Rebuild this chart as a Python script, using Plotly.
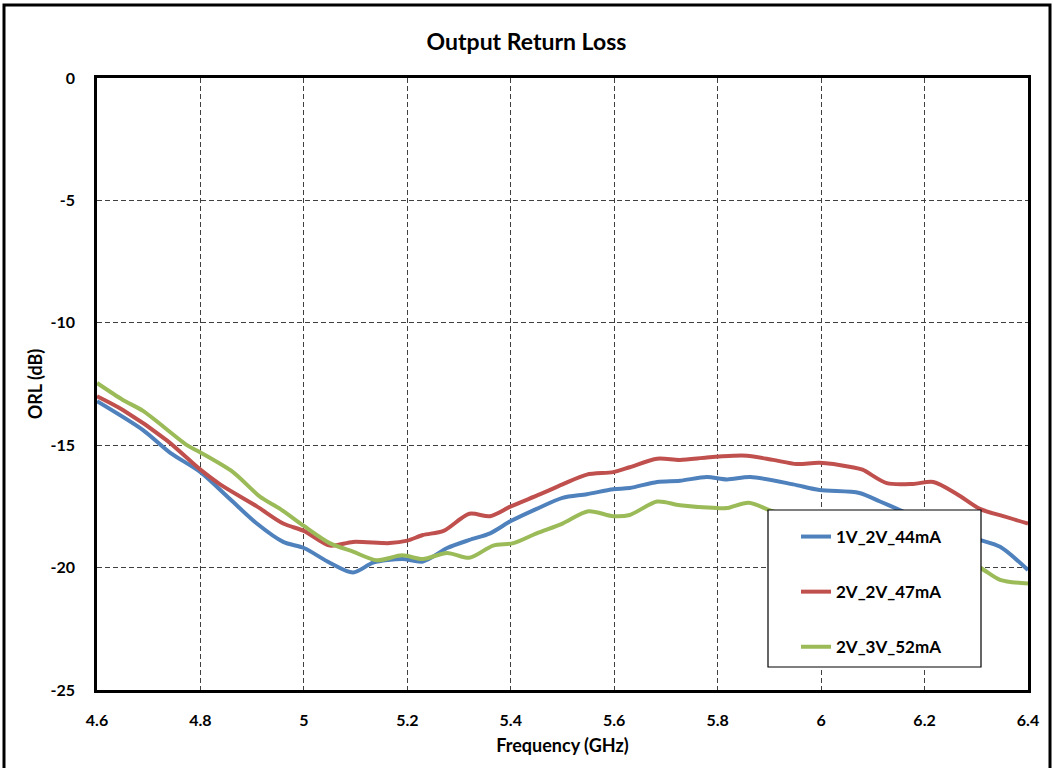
import plotly.graph_objects as go

# Series: frequency (GHz) and ORL (dB)
freq_44 = [4.600, 4.689, 4.741, 4.800, 4.857, 4.909, 4.960, 5.000, 5.050, 5.095, 5.134, 5.190,
           5.230, 5.277, 5.320, 5.360, 5.400, 5.450, 5.500, 5.547, 5.598, 5.630, 5.683, 5.727,
           5.779, 5.818, 5.863, 5.946, 5.997, 6.074, 6.114, 6.147, 6.200, 6.250, 6.307, 6.346, 6.400]
orl_44 = [-13.2, -14.38, -15.3, -16.1, -17.2, -18.2, -18.95, -19.2, -19.8, -20.2, -19.8, -19.65,
          -19.75, -19.2, -18.87, -18.6, -18.1, -17.6, -17.15, -17.0, -16.8, -16.75, -16.5, -16.45,
          -16.3, -16.4, -16.3, -16.6, -16.83, -16.95, -17.3, -17.6, -18.1, -18.5, -18.87, -19.15, -20.1]

freq_47 = [4.600, 4.650, 4.735, 4.800, 4.838, 4.909, 4.960, 5.000, 5.050, 5.095, 5.166, 5.200,
           5.230, 5.270, 5.320, 5.360, 5.400, 5.457, 5.500, 5.547, 5.598, 5.630, 5.683, 5.727,
           5.779, 5.830, 5.857, 5.907, 5.953, 5.997, 6.060, 6.080, 6.127, 6.178, 6.217, 6.263,
           6.307, 6.352, 6.400]
orl_47 = [-13.0, -13.56, -14.8, -16.0, -16.6, -17.5, -18.2, -18.5, -19.1, -18.95, -19.0, -18.9,
          -18.67, -18.5, -17.8, -17.9, -17.5, -17.0, -16.6, -16.2, -16.1, -15.9, -15.55, -15.6,
          -15.5, -15.43, -15.43, -15.6, -15.77, -15.72, -15.9, -16.0, -16.55, -16.58, -16.5, -17.0,
          -17.6, -17.9, -18.2]

freq_52 = [4.600, 4.650, 4.689, 4.774, 4.800, 4.863, 4.915, 4.954, 5.000, 5.050, 5.095, 5.141,
           5.190, 5.230, 5.277, 5.320, 5.366, 5.405, 5.450, 5.500, 5.550, 5.598, 5.630, 5.683,
           5.727, 5.800, 5.818, 5.860, 5.900, 5.950, 6.050, 6.150, 6.250, 6.307, 6.346, 6.400]
orl_52 = [-12.46, -13.15, -13.6, -15.0, -15.3, -16.1, -17.1, -17.6, -18.3, -19.0, -19.35, -19.7,
          -19.5, -19.65, -19.4, -19.6, -19.1, -19.0, -18.6, -18.2, -17.7, -17.9, -17.85, -17.3,
          -17.45, -17.57, -17.57, -17.35, -17.65, -18.0, -18.4, -18.9, -19.5, -20.0, -20.5, -20.65]

series_names = ["1V_2V_44mA", "2V_2V_47mA", "2V_3V_52mA"]
series_colors = ["#4F81BD", "#C0504D", "#9BBB59"]

x_ticks = [4.6, 4.8, 5.0, 5.2, 5.4, 5.6, 5.8, 6.0, 6.2, 6.4]
x_tick_labels = ["4.6", "4.8", "5", "5.2", "5.4", "5.6", "5.8", "6", "6.2", "6.4"]
y_ticks = [0, -5, -10, -15, -20, -25]

FONT = "Lato, 'Open Sans', sans-serif"

fig = go.Figure()
for name, color, xs, ys in zip(series_names, series_colors,
                               [freq_44, freq_47, freq_52], [orl_44, orl_47, orl_52]):
    fig.add_trace(go.Scatter(x=xs, y=ys, mode="lines", name=f"<b>{name}</b>", legendgroup=name,
                             line=dict(color=color, width=4, shape="spline", smoothing=0.8)))

# legend frame
fig.add_shape(type="rect", xref="paper", yref="paper",
              x0=(768 - 97) / 931, x1=(981 - 97) / 931,
              y0=(690 - 667) / 612, y1=(690 - 510) / 612,
              line=dict(color="black", width=1.2), fillcolor="white", layer="above")
# outer figure frame
fig.add_shape(type="rect", xref="paper", yref="paper",
              x0=(4 - 97) / 931, x1=(1050 - 97) / 931,
              y0=(690 - 800) / 612, y1=(690 - 5) / 612,
              line=dict(color="black", width=3), layer="above")

fig.update_layout(
    width=1053, height=768,
    margin=dict(l=97, r=25, t=78, b=78),
    paper_bgcolor="white", plot_bgcolor="white",
    font=dict(family=FONT, size=16, color="black"),
    title=dict(text="<b>Output Return Loss</b>", x=0.5, xanchor="center", y=1 - 42 / 768,
               yanchor="middle", font=dict(size=23, family=FONT, color="black")),
    legend=dict(x=(796 - 97) / 931, y=(690 - 519) / 612, xanchor="left", yanchor="top",
                bgcolor="rgba(0,0,0,0)", borderwidth=0, tracegroupgap=30,
                font=dict(size=17, family=FONT, color="black")),
    showlegend=True,
)
fig.update_xaxes(range=[4.6, 6.4], tickvals=x_ticks, ticktext=[f"<b>{t}</b>" for t in x_tick_labels],
                 showgrid=True, gridcolor="#404040", gridwidth=1, griddash="5px,3px",
                 showline=True, linecolor="black", linewidth=2.5, mirror=True,
                 ticks="", ticklabelstandoff=14, zeroline=False,
                 title=dict(text="<b>Frequency (GHz)</b>", standoff=12, font=dict(size=18)))
fig.update_yaxes(range=[-25, 0], tickvals=y_ticks, ticktext=[f"<b>{t}</b>" for t in y_ticks],
                 showgrid=True, gridcolor="#404040", gridwidth=1, griddash="5px,3px",
                 showline=True, linecolor="black", linewidth=2.5, mirror=True,
                 ticks="", ticklabelstandoff=16, zeroline=False,
                 title=dict(text="<b>ORL (dB)</b>", standoff=4, font=dict(size=18)))

fig.write_html("out.html")
